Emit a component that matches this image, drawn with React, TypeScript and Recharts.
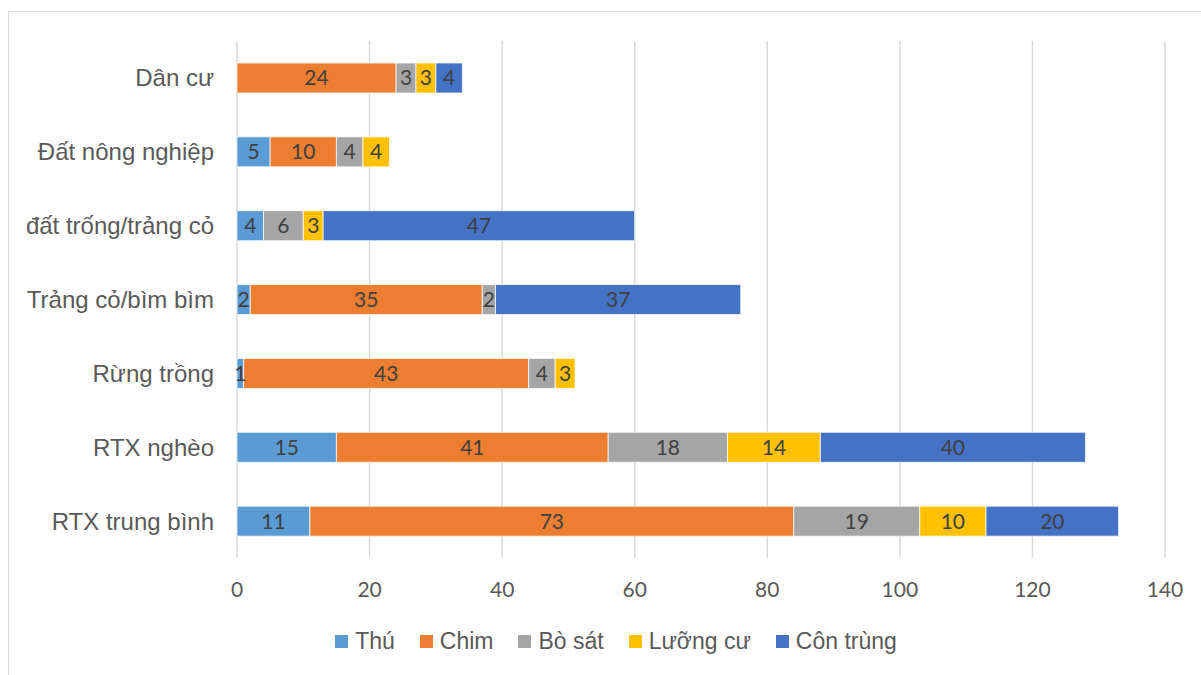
import React from 'react'
import {
  BarChart,
  Bar,
  XAxis,
  YAxis,
  CartesianGrid,
  Legend,
  LabelList
} from 'recharts'

// Số loài theo sinh cảnh
const habitats = [
  'Dân cư',
  'Đất nông nghiệp',
  'đất trống/trảng cỏ',
  'Trảng cỏ/bìm bìm',
  'Rừng trồng',
  'RTX nghèo',
  'RTX trung bình'
]
const thu = [0, 5, 4, 2, 1, 15, 11]
const chim = [24, 10, 0, 35, 43, 41, 73]
const boSat = [3, 4, 6, 2, 4, 18, 19]
const luongCu = [3, 4, 3, 0, 3, 14, 10]
const conTrung = [4, 0, 47, 37, 0, 40, 20]
const xTicks = [0, 20, 40, 60, 80, 100, 120, 140]

const SERIES = [
  { key: 'thu', name: 'Thú', color: '#5B9BD5' },
  { key: 'chim', name: 'Chim', color: '#ED7D31' },
  { key: 'boSat', name: 'Bò sát', color: '#A5A5A5' },
  { key: 'luongCu', name: 'Lưỡng cư', color: '#FFC000' },
  { key: 'conTrung', name: 'Côn trùng', color: '#4472C4' }
]

const data = habitats.map((name, i) => ({
  name,
  thu: thu[i],
  chim: chim[i],
  boSat: boSat[i],
  luongCu: luongCu[i],
  conTrung: conTrung[i]
}))

const NUM_FONT = 'Lato, "Open Sans", sans-serif'
const TEXT_FONT = '"Liberation Sans", Arial, sans-serif'

function LegendRow() {
  return (
    <div
      style={{
        display: 'flex',
        justifyContent: 'center',
        gap: 25,
        fontFamily: TEXT_FONT,
        fontSize: 23,
        lineHeight: '28px',
        color: '#595959'
      }}
    >
      {SERIES.map((s) => (
        <div key={s.key} style={{ display: 'flex', alignItems: 'center', gap: 7 }}>
          <span style={{ display: 'inline-block', width: 13, height: 13, background: s.color }} />
          <span>{s.name}</span>
        </div>
      ))}
    </div>
  )
}

export default function App() {
  return (
    <div style={{ position: 'absolute', left: 0, top: 0, width: 1201, height: 675, background: '#fff' }}>
      <div
        style={{
          position: 'absolute',
          left: 8,
          top: 11,
          width: 1200,
          height: 670,
          border: '1px solid #D9D9D9',
          boxSizing: 'border-box'
        }}
      />
      <BarChart
        width={1201}
        height={675}
        data={data}
        layout="vertical"
        margin={{ top: 41, right: 36, bottom: 87, left: 0 }}
        style={{ position: 'absolute', left: 0, top: 0 }}
      >
        <CartesianGrid horizontal={false} stroke="#D9D9D9" strokeWidth={1.5} />
        <XAxis
          type="number"
          domain={[0, 140]}
          ticks={xTicks}
          axisLine={false}
          tickLine={false}
          height={30}
          tickMargin={18}
          tick={{ fill: '#595959', fontSize: 21, fontFamily: NUM_FONT }}
        />
        <YAxis
          type="category"
          dataKey="name"
          width={237}
          axisLine={false}
          tickLine={false}
          tickMargin={17}
          tick={{ fill: '#595959', fontSize: 24, fontFamily: TEXT_FONT }}
        />
        <Legend
          layout="horizontal"
          verticalAlign="middle"
          align="center"
          wrapperStyle={{ top: 627, left: 0, width: 1232 }}
          content={() => <LegendRow />}
        />
        {SERIES.map((s) => (
          <Bar
            key={s.key}
            dataKey={s.key}
            name={s.name}
            stackId="a"
            fill={s.color}
            stroke="#fff"
            strokeWidth={0.75}
            barSize={30}
            isAnimationActive={false}
          >
            <LabelList
              dataKey={s.key}
              position="center"
              formatter={(v: any) => (v ? v : '')}
              fill="#404040"
              fontSize={21}
              fontFamily={NUM_FONT}
            />
          </Bar>
        ))}
      </BarChart>
    </div>
  )
}
